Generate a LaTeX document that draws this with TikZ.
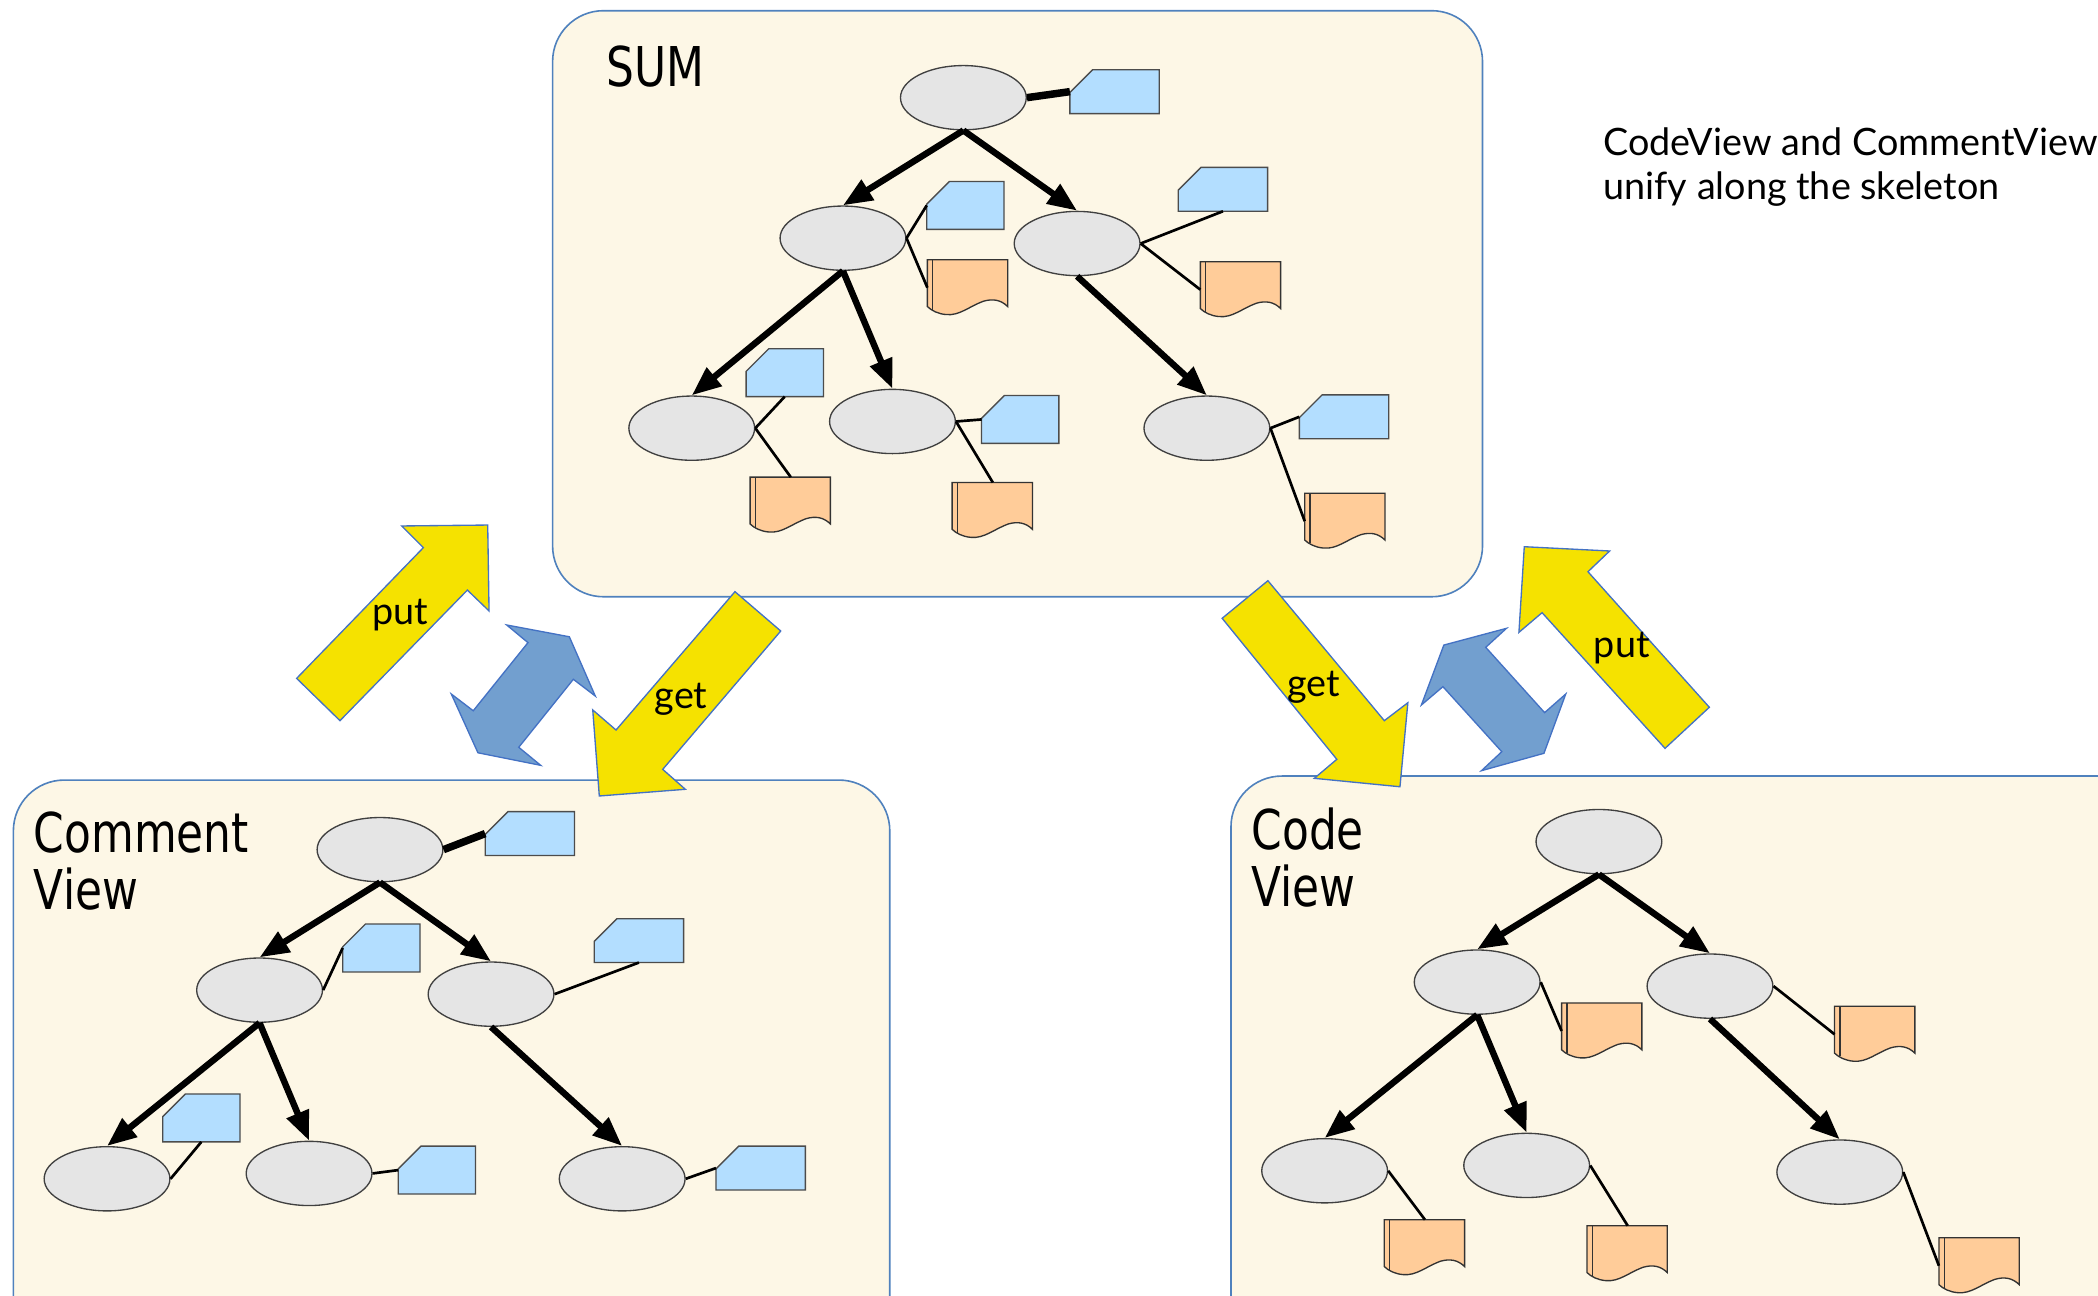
\documentclass[tikz,border=0pt]{standalone}
\usepackage{fontspec}
\setmainfont{Lato}
\newfontfamily\panelfont[FakeStretch=0.8]{DejaVu Sans}
\usepackage{tikz}
\usetikzlibrary{shapes,arrows.meta,positioning}

\definecolor{panelfill}{RGB}{253,247,230}
\definecolor{panelline}{RGB}{79,129,189}
\definecolor{vertfill}{RGB}{229,229,229}
\definecolor{cardfill}{RGB}{179,222,255}
\definecolor{docfill}{RGB}{255,204,153}
\definecolor{getput}{RGB}{245,226,0}
\definecolor{syncfill}{RGB}{114,159,207}
\definecolor{arrowline}{RGB}{68,114,196}

\begin{document}
\begin{tikzpicture}[x=0.5pt,y=-0.5pt,
    panel/.style={draw=panelline, fill=panelfill, line width=0.6pt, rounded corners=19pt},
    vert/.style={ellipse, draw=black!75, fill=vertfill, line width=0.5pt, minimum width=47pt, minimum height=24pt, inner sep=0},
    card/.style={inner sep=0, minimum width=33pt, minimum height=16pt},
    tallcard/.style={card, minimum width=28.5pt, minimum height=17.5pt},
    cardline/.style={draw=black!70, fill=cardfill, line width=0.5pt},
    doc/.style={inner sep=0, minimum width=30pt, minimum height=20.5pt},
    docline/.style={draw=black!80, line width=0.5pt},
    skel/.style={line width=2.4pt, -{Triangle[length=11pt,width=8.5pt]}},
    link/.style={line width=1pt},
    rootlink/.style={line width=2.8pt},
    lens/.style={fill=getput, draw=arrowline, line width=0.5pt},
    sync/.style={fill=syncfill, draw=arrowline, line width=0.5pt},
    lbl/.style={font=\fontsize{14.1}{16.5}\selectfont, inner sep=0},
    title/.style={font=\panelfont\fontsize{20.5}{21.5}\selectfont, align=left, inner sep=0, anchor=north west}]
\useasboundingbox (0,0) rectangle (1568,968);
\clip (0,0) rectangle (1568,968);

% panels
\draw[panel] (413,8) rectangle (1108,446);
\draw[panel] (10,583) rectangle (665,1010);
\draw[panel] (920,580) rectangle (1620,1010);

\node[title] (sumlbl) at (453,34) {SUM};
\node[title] (cmtlbl) at (25,606) {Comment\\View};
\node[title] (codelbl) at (935,603) {Code\\View};

% SUM tree
\node[vert] (s) at (720,73) {};
\node[vert] (sl) at (630,178) {};
\node[vert] (sr) at (805,182) {};
\node[vert] (sll) at (517,320) {};
\node[vert] (slr) at (667,315) {};
\node[vert] (srr) at (902,320) {};
\node[card] (sc) at (833,68.5) {};
\node[tallcard] (slc) at (721.5,153.5) {};
\node[card] (src) at (914,141.5) {};
\node[tallcard] (sllc) at (586.5,278.5) {};
\node[tallcard] (slrc) at (762.5,313.5) {};
\node[card] (srrc) at (1004.5,311.5) {};
\node[doc] (sld) at (723.5,215) {};
\node[doc] (srd) at (927.5,216.5) {};
\node[doc] (slld) at (591,377.5) {};
\node[doc] (slrd) at (742,381.5) {};
\node[doc] (srrd) at (1005.5,389.5) {};

% comment view
\node[vert] (c) at (284,635) {};
\node[vert] (cl) at (194,740) {};
\node[vert] (cr) at (367,743) {};
\node[vert] (cll) at (80,881) {};
\node[vert] (clr) at (231,877) {};
\node[vert] (crr) at (465,881) {};
\node[card] (cc) at (396,623) {};
\node[tallcard] (clc) at (285,708.5) {};
\node[card] (crc) at (477.5,703) {};
\node[tallcard] (cllc) at (150.5,835.5) {};
\node[tallcard] (clrc) at (326.5,874.5) {};
\node[card] (crrc) at (568.5,873) {};

% code view
\node[vert] (d) at (1195,629) {};
\node[vert] (dl) at (1104,734) {};
\node[vert] (dr) at (1278,737) {};
\node[vert] (dll) at (990,875) {};
\node[vert] (dlr) at (1141,871) {};
\node[vert] (drr) at (1375,876) {};
\node[doc] (dld) at (1197.5,770.5) {};
\node[doc] (drd) at (1401.5,773) {};
\node[doc] (dlld) at (1065,932.5) {};
\node[doc] (dlrd) at (1216.5,937) {};
\node[doc] (drrd) at (1479.5,946) {};

% comment cards, corner cut
\foreach \c in {sc,slc,src,sllc,slrc,srrc,cc,clc,crc,cllc,clrc,crrc}
    \draw[cardline] (\c.south west) -- (\c.south east) -- (\c.north east) -- ([xshift=8.5pt]\c.north west)
        -- ([yshift=-8.5pt]\c.north west) -- cycle;

% documents
\foreach \d in {sld,srd,slld,slrd,srrd,dld,drd,dlld,dlrd,drrd} {
    \draw[docline, fill=docfill, shift={(\d.north west)}] (0,0) -- (60,0) -- (60,35)
        .. controls (55,30) and (49,29) .. (42,31) .. controls (31,35) and (24,42) .. (14,41)
        .. controls (8,40.5) and (3,38) .. (0,35) -- cycle;
    \draw[docline, shift={(\d.north west)}] (4,0) -- (4,37.4);
}

% skeleton
\foreach \a/\b in {s/sl,s/sr,sl/sll,sl/slr,sr/srr,c/cl,c/cr,cl/cll,cl/clr,cr/crr,d/dl,d/dr,dl/dll,dl/dlr,dr/drr}
    \draw[skel] (\a.south) -- (\b.north);

% attachments
\draw[rootlink] (s.east) -- (sc.west);
\draw[rootlink] (c.east) -- (cc.west);
\draw[link] (sl.east) -- (slc.west);
\draw[link] (sl.east) -- (sld.west);
\draw[link] (sr.east) -- (src.south);
\draw[link] (sr.east) -- (srd.west);
\draw[link] (sll.east) -- (sllc.south);
\draw[link] (sll.east) -- (slld.north);
\draw[link] (slr.east) -- (slrc.west);
\draw[link] (slr.east) -- (slrd.north);
\draw[link] (srr.east) -- (srrc.west);
\draw[link] (srr.east) -- (srrd.west);
\draw[link] (cl.east) -- (clc.west);
\draw[link] (cr.east) -- (crc.south);
\draw[link] (cll.east) -- (cllc.south);
\draw[link] (clr.east) -- (clrc.west);
\draw[link] (crr.east) -- (crrc.west);
\draw[link] (dl.east) -- (dld.west);
\draw[link] (dr.east) -- (drd.west);
\draw[link] (dll.east) -- (dlld.north);
\draw[link] (dlr.east) -- (dlrd.north);
\draw[link] (drr.east) -- (drrd.west);

% get / put arrows
\draw[lens] (300.2,393.1) -- (364.5,392.4) -- (365.5,456.6) -- (349.3,441) -- (254.1,538.6)
    -- (221.7,507) -- (316.4,409.3) -- cycle;
\draw[sync] (378.7,467.1) -- (425.5,475.9) -- (444.9,520.2) -- (428.5,507.7) -- (387.7,558.5)
    -- (404.1,572) -- (357.2,562.6) -- (337.3,518.7) -- (353.7,531.2) -- (394.6,480.3) -- cycle;
\draw[lens] (549.3,442.2) -- (583.5,471.6) -- (495.3,575) -- (512.2,589.9) -- (447.9,594.9)
    -- (443,530.6) -- (460.4,545.6) -- cycle;
\draw[lens] (947.6,434) -- (913.4,462.1) -- (999.1,567.5) -- (982.3,581.7) -- (1046.3,588)
    -- (1052.2,525.2) -- (1034.6,538.6) -- cycle;
\draw[sync] (1125.9,469.6) -- (1110.4,483.8) -- (1154.4,532.6) -- (1170.2,518.7) -- (1153.9,563)
    -- (1107.2,576) -- (1122.4,561.8) -- (1078.4,513.2) -- (1062.3,526.9) -- (1079.1,482.1) -- cycle;
\draw[lens] (1139.2,408.6) -- (1203,411.8) -- (1186.8,427.3) -- (1277.5,528.6) -- (1244.4,559.3)
    -- (1152.5,457.9) -- (1135.2,472.6) -- cycle;

\node[lbl] (putl) at (299,460) {put};
\node[lbl] (getl) at (509,523) {get};
\node[lbl] (getr) at (982,514) {get};
\node[lbl] (putr) at (1212,484) {put};

\node[lbl, align=left, anchor=north west] (note) at (1198,95) {CodeView and CommentView\\unify along the skeleton};
\end{tikzpicture}
\end{document}
